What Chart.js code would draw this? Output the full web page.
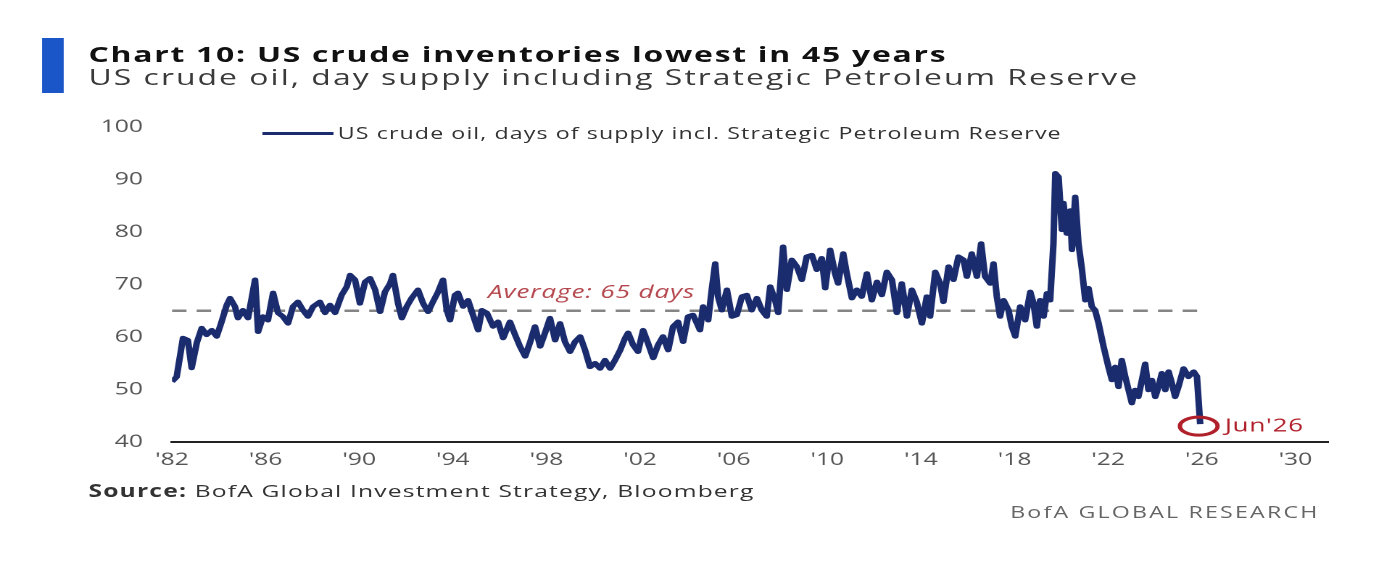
<!DOCTYPE html>
<html>
<head>
<meta charset="utf-8">
<script src="https://cdn.jsdelivr.net/npm/chart.js@4.4.1/dist/chart.umd.min.js"></script>
<style>
  html, body { margin: 0; padding: 0; background: #fff; overflow: hidden; }
  #page {
    position: relative; width: 959px; height: 582px;
    transform: scaleX(1.45); transform-origin: 0 0;
    font-family: 'Open Sans', sans-serif;
  }
  .abs { position: absolute; white-space: nowrap; }
  #bar { left: 29px; top: 38px; width: 15px; height: 55px; background: #1b56c9; }
  #title { left: 61px; top: 42px; font-size: 22px; line-height: 22px; font-weight: 700; color: #111; letter-spacing: 1.2px; }
  #subtitle { left: 61px; top: 65px; font-size: 22px; line-height: 22px; color: #3a3a3a; letter-spacing: 1.4px; }
  #legend { left: 181px; top: 124px; font-size: 16px; line-height: 18px; color: #333; display: flex; align-items: center; letter-spacing: 0.75px; }
  #legend .swatch { width: 49px; height: 3px; background: #1a2b6e; margin-right: 3px; }
  #source { left: 61px; top: 482px; font-size: 17px; line-height: 17px; color: #333; letter-spacing: 0.8px; }
  #brand { right: 49px; top: 504px; font-size: 16px; line-height: 16px; color: #666; letter-spacing: 1.5px; }
  canvas { position: absolute; left: 0; top: 0; }
</style>
</head>
<body>
<div id="page">
  <div id="bar" class="abs"></div>
  <div id="title" class="abs">Chart 10: US crude inventories lowest in 45 years</div>
  <div id="subtitle" class="abs">US crude oil, day supply including Strategic Petroleum Reserve</div>
  <canvas id="chart" width="959" height="582" style="width:959px;height:582px"></canvas>
  <div id="legend" class="abs"><span class="swatch"></span><span>US crude oil, days of supply incl. Strategic Petroleum Reserve</span></div>
  <div id="source" class="abs"><b>Source:</b> BofA Global Investment Strategy, Bloomberg</div>
  <div id="brand" class="abs">BofA GLOBAL RESEARCH</div>
</div>
<script>
// ---- data (decimal year, days of supply) ----
const years = [
  1982.00, 1982.20, 1982.47, 1982.68, 1982.84, 1983.06, 1983.27, 1983.48, 1983.70, 1983.91,
  1984.12, 1984.34, 1984.48, 1984.69, 1984.82, 1985.03, 1985.25, 1985.55, 1985.68, 1985.89,
  1986.10, 1986.32, 1986.53, 1986.74, 1986.96, 1987.17, 1987.38, 1987.60, 1987.81, 1988.03,
  1988.32, 1988.54, 1988.75, 1988.97, 1989.25, 1989.47, 1989.61, 1989.82, 1990.03, 1990.25,
  1990.46, 1990.68, 1990.89, 1991.10, 1991.32, 1991.44, 1991.66, 1991.82, 1992.03, 1992.24,
  1992.51, 1992.73, 1992.94, 1993.15, 1993.37, 1993.58, 1993.74, 1993.88, 1994.09, 1994.22,
  1994.44, 1994.65, 1994.86, 1995.08, 1995.24, 1995.45, 1995.72, 1995.93, 1996.15, 1996.44,
  1996.66, 1996.87, 1997.09, 1997.30, 1997.51, 1997.73, 1997.94, 1998.15, 1998.37, 1998.58,
  1998.79, 1999.01, 1999.22, 1999.44, 1999.65, 1999.86, 2000.08, 2000.29, 2000.50, 2000.72,
  2000.93, 2001.15, 2001.36, 2001.49, 2001.70, 2001.91, 2002.13, 2002.34, 2002.56, 2002.77,
  2002.98, 2003.20, 2003.41, 2003.62, 2003.84, 2004.05, 2004.26, 2004.44, 2004.56, 2004.69,
  2004.91, 2005.06, 2005.21, 2005.33, 2005.49, 2005.71, 2005.92, 2006.13, 2006.35, 2006.56,
  2006.77, 2006.99, 2007.20, 2007.41, 2007.56, 2007.77, 2007.90, 2008.11, 2008.27, 2008.48,
  2008.70, 2008.91, 2009.12, 2009.34, 2009.55, 2009.76, 2009.91, 2010.12, 2010.33, 2010.46,
  2010.68, 2010.83, 2011.05, 2011.26, 2011.47, 2011.69, 2011.90, 2012.12, 2012.33, 2012.54,
  2012.76, 2012.97, 2013.18, 2013.40, 2013.61, 2013.82, 2014.04, 2014.25, 2014.39, 2014.61,
  2014.82, 2014.96, 2015.18, 2015.39, 2015.60, 2015.82, 2015.96, 2016.17, 2016.39, 2016.57,
  2016.74, 2016.96, 2017.10, 2017.24, 2017.38, 2017.53, 2017.74, 2017.88, 2018.03, 2018.24,
  2018.45, 2018.67, 2018.81, 2018.95, 2019.09, 2019.24, 2019.38, 2019.52, 2019.66, 2019.74,
  2019.88, 2020.02, 2020.09, 2020.23, 2020.38, 2020.45, 2020.59, 2020.73, 2020.88, 2021.02,
  2021.16, 2021.30, 2021.44, 2021.59, 2021.80, 2022.01, 2022.16, 2022.30, 2022.44, 2022.58,
  2022.73, 2022.87, 2023.01, 2023.15, 2023.29, 2023.44, 2023.58, 2023.72, 2023.87, 2024.01,
  2024.15, 2024.29, 2024.44, 2024.58, 2024.72, 2024.86, 2025.00, 2025.22, 2025.43, 2025.65,
  2025.79, 2025.93
];
const daysSupply = [
  51.5, 52.4, 59.8, 59.4, 54.1, 58.9, 61.7, 60.4, 61.3, 60.1,
  62.9, 66.1, 67.4, 65.8, 63.6, 65.1, 63.6, 70.9, 61.0, 63.9,
  63.2, 68.4, 64.6, 63.9, 62.6, 65.8, 66.7, 65.1, 63.9, 65.8,
  66.7, 64.6, 66.1, 64.6, 68.0, 69.6, 71.8, 70.9, 66.4, 70.5,
  71.2, 69.0, 64.8, 68.6, 70.2, 71.8, 66.4, 63.6, 65.8, 67.4,
  69.0, 66.4, 64.8, 66.7, 68.6, 70.9, 65.1, 63.2, 68.0, 68.4,
  65.8, 67.0, 64.2, 61.3, 65.1, 64.6, 62.0, 62.9, 59.8, 62.9,
  60.4, 58.2, 56.3, 59.0, 62.0, 58.2, 60.8, 63.6, 59.4, 62.6,
  59.1, 57.2, 59.1, 60.1, 57.5, 54.3, 55.0, 54.0, 55.6, 54.0,
  55.6, 57.5, 59.8, 60.8, 58.5, 57.2, 61.3, 58.8, 56.0, 58.5,
  60.1, 57.5, 62.0, 62.9, 59.1, 63.9, 64.2, 62.5, 61.3, 65.8,
  63.2, 69.0, 74.0, 67.7, 65.1, 69.0, 63.9, 64.2, 67.7, 68.0,
  65.1, 67.4, 65.1, 63.9, 69.6, 67.0, 64.6, 77.2, 69.0, 74.7,
  73.4, 70.9, 75.3, 75.6, 72.8, 75.0, 69.3, 76.6, 72.1, 70.2,
  75.9, 72.1, 67.4, 69.0, 67.7, 72.1, 67.0, 70.5, 68.0, 72.4,
  70.9, 64.6, 70.2, 63.9, 69.0, 66.7, 62.6, 67.7, 63.9, 72.4,
  70.2, 66.7, 73.4, 70.9, 75.3, 74.7, 71.5, 75.9, 71.5, 77.8,
  71.5, 70.2, 74.0, 67.7, 63.9, 67.0, 65.1, 62.0, 60.1, 65.8,
  63.2, 68.6, 66.4, 62.0, 67.0, 63.9, 68.3, 67.0, 77.8, 91.2,
  90.5, 80.4, 85.5, 79.7, 84.1, 76.6, 86.7, 77.8, 72.8, 67.0,
  69.3, 65.8, 65.1, 62.6, 58.2, 54.3, 51.8, 54.3, 50.5, 55.6,
  52.4, 49.9, 47.4, 49.9, 48.6, 51.8, 54.9, 49.9, 51.8, 48.6,
  50.5, 53.1, 49.9, 53.4, 51.2, 48.6, 50.5, 54.0, 52.4, 53.4,
  52.5, 43.4
];
const averageDays = 65;
const xTickYears = [1982, 1986, 1990, 1994, 1998, 2002, 2006, 2010, 2014, 2018, 2022, 2026, 2030];
const yTickValues = [40, 50, 60, 70, 80, 90, 100];
const avgLabel = { text: 'Average: 65 days', x: 1995.5, y: 68.4 };
const lastLabel = "Jun'26";

const seriesPoints = years.map((yr, i) => ({ x: yr, y: daysSupply[i] }));
const averagePoints = [
  { x: years[0], y: averageDays },
  { x: years[years.length - 1], y: averageDays }
];

Chart.defaults.font.family = "'Open Sans', sans-serif";

// annotations: average label, ring round the last point and its date
const annotations = {
  id: 'annotations',
  afterDatasetsDraw(chart) {
    const ctx = chart.ctx;
    const xs = chart.scales.x, ys = chart.scales.y;
    ctx.save();
    ctx.font = "italic 18px 'Open Sans', sans-serif";
    ctx.letterSpacing = '0.6px';
    ctx.fillStyle = '#b4474d';
    ctx.textBaseline = 'middle';
    ctx.textAlign = 'left';
    ctx.fillText(avgLabel.text, xs.getPixelForValue(avgLabel.x), ys.getPixelForValue(avgLabel.y));

    const pts = chart.getDatasetMeta(0).data;
    const last = pts[pts.length - 1];
    ctx.strokeStyle = '#b0202a';
    ctx.lineWidth = 3;
    ctx.beginPath();
    ctx.ellipse(last.x - 1, last.y + 2, 13, 9, 0, 0, Math.PI * 2);
    ctx.stroke();
    ctx.font = "18px 'Open Sans', sans-serif";
    ctx.letterSpacing = '0.5px';
    ctx.fillStyle = '#b0202a';
    ctx.fillText(lastLabel, last.x + 17, last.y + 2);
    ctx.restore();
  }
};

new Chart(document.getElementById('chart'), {
  type: 'line',
  data: {
    datasets: [{
      label: 'US crude oil, days of supply incl. Strategic Petroleum Reserve',
      data: seriesPoints,
      borderColor: '#1a2b6e',
      borderWidth: 4.5,
      pointRadius: 0,
      tension: 0,
      borderJoinStyle: 'round'
    }, {
      label: 'Average',
      data: averagePoints,
      borderColor: '#858585',
      borderWidth: 2.5,
      borderDash: [10, 7],
      pointRadius: 0
    }]
  },
  options: {
    responsive: false,
    animation: false,
    devicePixelRatio: 2,
    layout: { padding: { left: 0, right: 43, top: 127, bottom: 100 } },
    plugins: { legend: { display: false }, tooltip: { enabled: false } },
    scales: {
      x: {
        type: 'linear',
        min: 1982,
        max: 2031.4,
        afterBuildTicks: (s) => { s.ticks = xTickYears.map(v => ({ value: v })); },
        afterFit: (s) => { s.height = 40; },
        grid: { display: false, drawTicks: false },
        border: { display: true, color: '#222', width: 2 },
        ticks: {
          padding: 8,
          color: '#555',
          font: { size: 17 },
          maxRotation: 0,
          autoSkip: false,
          callback: (v) => "'" + String(v).slice(2)
        }
      },
      y: {
        min: 40,
        max: 100,
        afterBuildTicks: (s) => { s.ticks = yTickValues.map(v => ({ value: v })); },
        afterFit: (s) => { s.width = 118.6; },
        grid: { display: false, drawTicks: false },
        border: { display: false },
        ticks: { padding: 20, color: '#555', font: { size: 17 } }
      }
    }
  },
  plugins: [annotations]
});
</script>
</body>
</html>
